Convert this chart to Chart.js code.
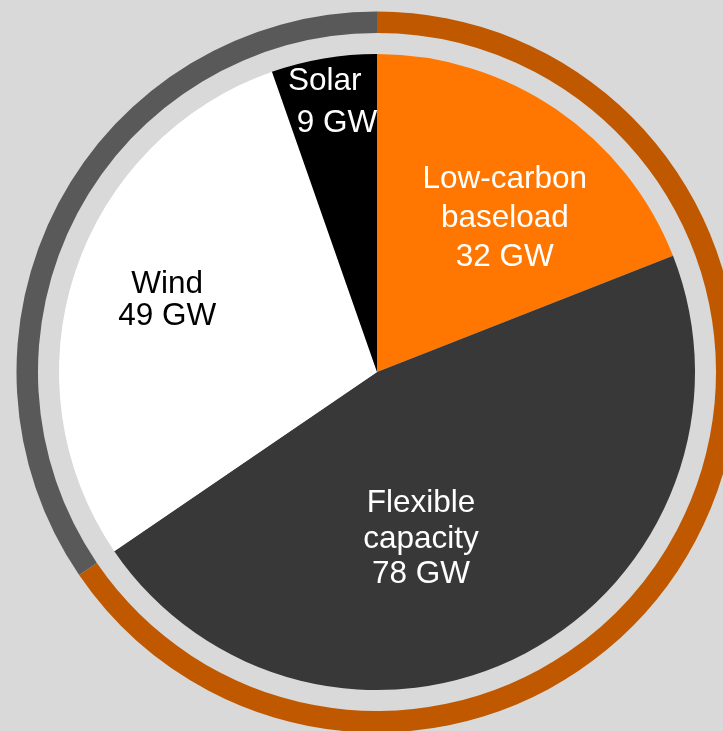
<!DOCTYPE html>
<html lang="en">
<head>
<meta charset="UTF-8">
<title>Capacity mix</title>
<script src="https://cdn.jsdelivr.net/npm/chart.js"></script>
<style>
  html, body { margin: 0; padding: 0; background: #d9d9d9; overflow: hidden; }
  #wrap { position: relative; width: 723px; height: 731px; }
  #wrap canvas { position: absolute; left: 0; top: 0; }
</style>
</head>
<body>
<div id="wrap">
  <canvas id="ring" width="723" height="731"></canvas>
  <canvas id="pie" width="723" height="731"></canvas>
</div>
<script>
// slice data (GW)
const categories = ['Low-carbon baseload', 'Flexible capacity', 'Wind', 'Solar'];
const capacityGW = [32, 78, 49, 9];
const nameLines = [['Low-carbon', 'baseload'], ['Flexible', 'capacity'], ['Wind'], ['Solar']];

// outer ring groups: firm (baseload + flexible) vs variable renewables (wind + solar)
const ringGroups = ['Firm capacity', 'Variable renewables'];
const ringGW = [capacityGW[0] + capacityGW[1], capacityGW[2] + capacityGW[3]];

const sliceColors = ['#ff7700', '#383838', '#ffffff', '#000000'];
const labelColors = ['#ffffff', '#ffffff', '#000000', '#ffffff'];
const ringColors = ['#c05800', '#595959'];

// label placement: fraction of radius, angle shift from slice middle (deg), line height
const labelPlace = [
  { frac: 0.608, shift: 7.1, lh: 39 },
  { frac: 0.569, shift: 13.8, lh: 35.5 },
  { frac: 0.689, shift: -1.5, lh: 32 },
  { frac: 0.866, shift: -9.2, lh: 42, align: 'left', indent: ' ' }
];

const pad = { left: 31, top: 13, right: 0, bottom: 0 };

const sliceLabels = {
  id: 'sliceLabels',
  afterDatasetsDraw(chart) {
    const ctx = chart.ctx;
    const arcs = chart.getDatasetMeta(0).data;
    ctx.save();
    ctx.font = '31.5px "Liberation Sans", Arial, sans-serif';
    ctx.textBaseline = 'alphabetic';
    arcs.forEach((arc, i) => {
      const p = labelPlace[i];
      const { x, y, startAngle, endAngle, outerRadius } =
        arc.getProps(['x', 'y', 'startAngle', 'endAngle', 'outerRadius'], true);
      const a = (startAngle + endAngle) / 2 + p.shift * Math.PI / 180;
      const cx = x + Math.cos(a) * outerRadius * p.frac;
      const cy = y + Math.sin(a) * outerRadius * p.frac;
      const lines = [...nameLines[i], (p.indent || '') + capacityGW[i] + ' GW'];
      ctx.fillStyle = labelColors[i];
      ctx.textAlign = p.align || 'center';
      lines.forEach((t, k) => {
        ctx.fillText(t, cx, cy + (k - (lines.length - 1) / 2) * p.lh);
      });
    });
    ctx.restore();
  }
};

const common = {
  responsive: false,
  animation: false,
  events: [],
  layout: { padding: pad },
  plugins: { legend: { display: false }, tooltip: { enabled: false } }
};

new Chart(document.getElementById('ring'), {
  type: 'doughnut',
  data: {
    labels: ringGroups,
    datasets: [{ data: ringGW, backgroundColor: ringColors, borderWidth: 0, clip: false }]
  },
  options: Object.assign({}, common, { radius: 360.5, cutout: '94.04%' })
});

new Chart(document.getElementById('pie'), {
  type: 'pie',
  data: {
    labels: categories,
    datasets: [{ data: capacityGW, backgroundColor: sliceColors, borderWidth: 0, clip: false }]
  },
  options: Object.assign({}, common, { radius: 318 }),
  plugins: [sliceLabels]
});
</script>
</body>
</html>
